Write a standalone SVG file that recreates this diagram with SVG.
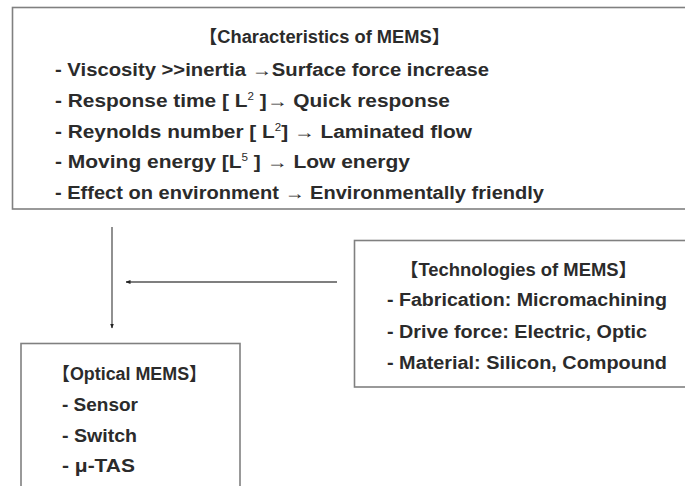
<svg xmlns="http://www.w3.org/2000/svg" width="685" height="486" viewBox="0 0 685 486">
<defs>
<style>
.box{fill:#fff;stroke:#808080;stroke-width:1.6}
.t{font-family:"Liberation Sans","Noto Sans CJK JP",Arial,sans-serif;font-size:18px;font-weight:bold;fill:#2b2b2b}
.sup{font-size:10px;font-weight:normal}
.conn{stroke:#555;stroke-width:1.3;fill:none}
</style>
<marker id="ah" viewBox="0 0 10 10" refX="9" refY="5" markerWidth="5" markerHeight="5" orient="auto" markerUnits="userSpaceOnUse">
<path d="M0,1 L10,5 L0,9 Z" fill="#222"/>
</marker>
</defs>
<rect width="685" height="486" fill="#fff"/>
<g id="characteristics">
<rect class="box" x="12.5" y="7.5" width="700" height="201.5"/>
<text class="t" x="199" y="43" textLength="251" lengthAdjust="spacingAndGlyphs">【Characteristics of MEMS】</text>
<text class="t" x="55" y="76" textLength="434" lengthAdjust="spacingAndGlyphs">- Viscosity &gt;&gt;inertia →Surface force increase</text>
<text class="t" x="55" y="107" textLength="395" lengthAdjust="spacingAndGlyphs">- Response time  [ L<tspan class="sup" dy="-7">2</tspan><tspan dy="7"> ]→ Quick response</tspan></text>
<text class="t" x="55" y="138" textLength="417" lengthAdjust="spacingAndGlyphs">- Reynolds number  [ L<tspan class="sup" dy="-7">2</tspan><tspan dy="7">] → Laminated flow</tspan></text>
<text class="t" x="55" y="168" textLength="355" lengthAdjust="spacingAndGlyphs">- Moving energy  [L<tspan class="sup" dy="-7">5</tspan><tspan dy="7"> ] → Low energy</tspan></text>
<text class="t" x="55" y="199" textLength="489" lengthAdjust="spacingAndGlyphs">- Effect on environment → Environmentally friendly</text>
</g>
<g id="technologies">
<rect class="box" x="354.5" y="240.5" width="350" height="146.5"/>
<text class="t" x="400" y="276" textLength="237" lengthAdjust="spacingAndGlyphs">【Technologies of MEMS】</text>
<text class="t" x="387" y="306" textLength="280" lengthAdjust="spacingAndGlyphs">- Fabrication: Micromachining</text>
<text class="t" x="387" y="338" textLength="260" lengthAdjust="spacingAndGlyphs">- Drive force: Electric, Optic</text>
<text class="t" x="387" y="369" textLength="280" lengthAdjust="spacingAndGlyphs">- Material: Silicon, Compound</text>
</g>
<g id="optical">
<rect class="box" x="21" y="343.5" width="219" height="160"/>
<text class="t" x="52" y="380" textLength="155" lengthAdjust="spacingAndGlyphs">【Optical MEMS】</text>
<text class="t" x="62" y="411" textLength="76" lengthAdjust="spacingAndGlyphs">- Sensor</text>
<text class="t" x="62" y="442" textLength="75" lengthAdjust="spacingAndGlyphs">- Switch</text>
<text class="t" x="62" y="472" textLength="73" lengthAdjust="spacingAndGlyphs">- μ-TAS</text>
</g>
<g id="connectors">
<line class="conn" x1="112" y1="227" x2="112" y2="328" marker-end="url(#ah)"/>
<line class="conn" x1="337" y1="282" x2="126" y2="282" marker-end="url(#ah)"/>
</g>
</svg>
